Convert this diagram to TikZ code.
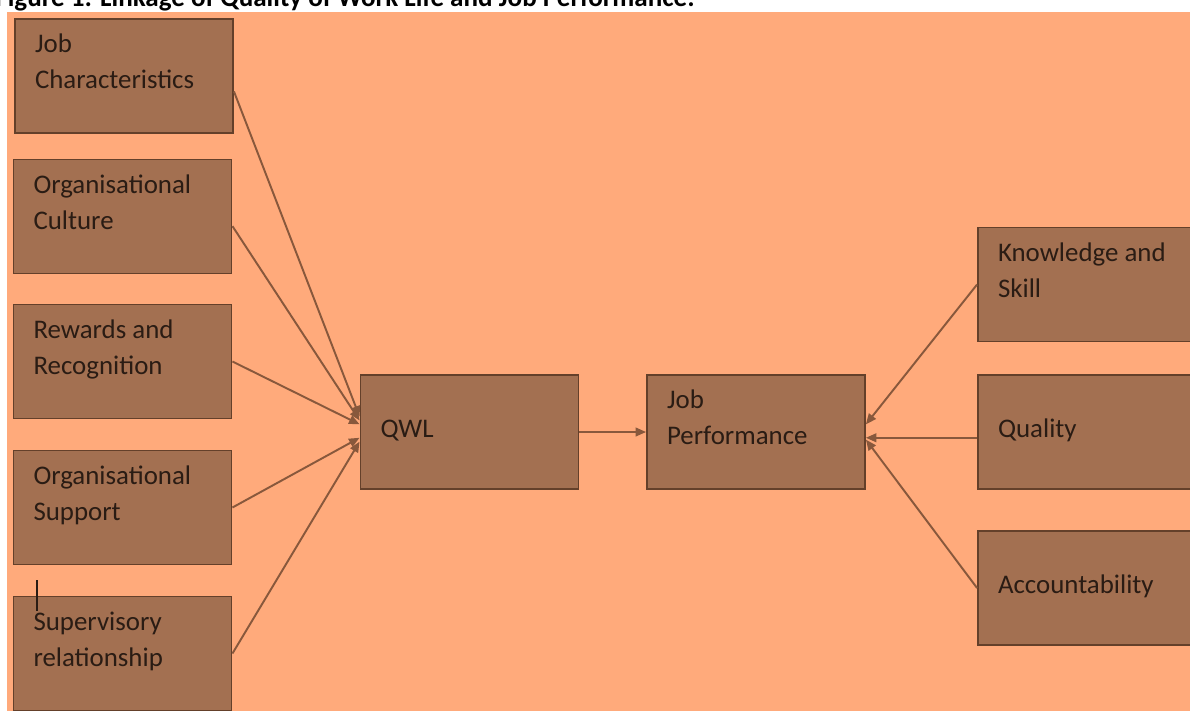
\documentclass[tikz,border=0pt]{standalone}
\usepackage{fontspec}
\setmainfont{Carlito}
\usetikzlibrary{arrows.meta,positioning}
\definecolor{bgorange}{RGB}{255,170,123}
\definecolor{boxbrown}{RGB}{163,112,81}
\definecolor{edgebrown}{RGB}{100,64,42}
\definecolor{linkbrown}{RGB}{136,88,60}
\definecolor{inkbrown}{RGB}{42,28,20}
\newlength{\boxw}\setlength{\boxw}{3.56cm}
\newlength{\boxh}\setlength{\boxh}{2.28cm}
\newcommand{\boxtxt}[1]{\parbox[c][\boxh][t]{\boxw}{\raggedright\vspace*{5pt}\strut#1}}

\begin{document}
\begin{tikzpicture}[x=0.02cm, y=-0.02cm, >={Triangle[length=6pt,width=5pt]},
  factor/.style={draw=edgebrown, line width=1.1pt, fill=boxbrown, text=inkbrown,
    inner sep=0pt, minimum width=4.36cm, minimum height=2.28cm,
    font=\fontsize{15.3pt}{20.4pt}\selectfont},
  link/.style={->, draw=linkbrown, line width=1.1pt}]
  \useasboundingbox (0,0) rectangle (1190,711);
  \clip (0,0) rectangle (1190,711);

  % caption, cut off at the top
  \node[font=\bfseries\fontsize{15.4pt}{18pt}\selectfont, anchor=base east, inner sep=0pt]
    (title) at (695,6) {Figure 1: Linkage of Quality of Work Life and Job Performance:};

  % background
  \fill[bgorange] (7,12) rectangle (1190,711);

  % QWL factors
  \node[factor] (jc) at (124,76)    {\boxtxt{Job\\Characteristics}};
  \node[factor] (oc) at (122.5,216.5) {\boxtxt{Organisational\\Culture}};
  \node[factor] (rr) at (122.5,361.5) {\boxtxt{Rewards and\\Recognition}};
  \node[factor] (os) at (122.5,507.5) {\boxtxt{Organisational\\Support}};
  \node[factor] (sr) at (122.5,653.5) {\boxtxt{Supervisory\\relationship}};

  % centre
  \node[factor] (qwl) at (469.5,432) {\boxtxt{\vspace*{-4pt}\\QWL}};
  \node[factor] (jp)  at (756,432)   {\boxtxt{Job\\Performance}};

  % performance dimensions
  \node[factor] (ks) at (1087,284.5) {\boxtxt{Knowledge and\\Skill}};
  \node[factor] (ql) at (1087,432)   {\boxtxt{\vspace*{-4pt}\\Quality}};
  \node[factor] (ac) at (1087,588)   {\boxtxt{\vspace*{-4pt}\\Accountability}};

  % text cursor left in the picture
  \draw[line width=1.3pt, inkbrown] (37,580) -- (37,598);
  \draw[line width=0.6pt, inkbrown] (37,598) -- (37,611);

  % links into QWL
  \draw[link] (jc.352) -- (qwl.172);
  \draw[link] (oc.355) -- (qwl.174);
  \draw[link] (rr.east) -- (qwl.176);
  \draw[link] (os.east) -- (qwl.183);
  \draw[link] (sr.east) -- (qwl.185);

  \draw[link] (qwl.east) -- (jp.west);

  % links into job performance
  \draw[link] (ks.west) -- (jp.4);
  \draw[link] (ql.183) -- (jp.357);
  \draw[link] (ac.west) -- (jp.356);
\end{tikzpicture}
\end{document}
